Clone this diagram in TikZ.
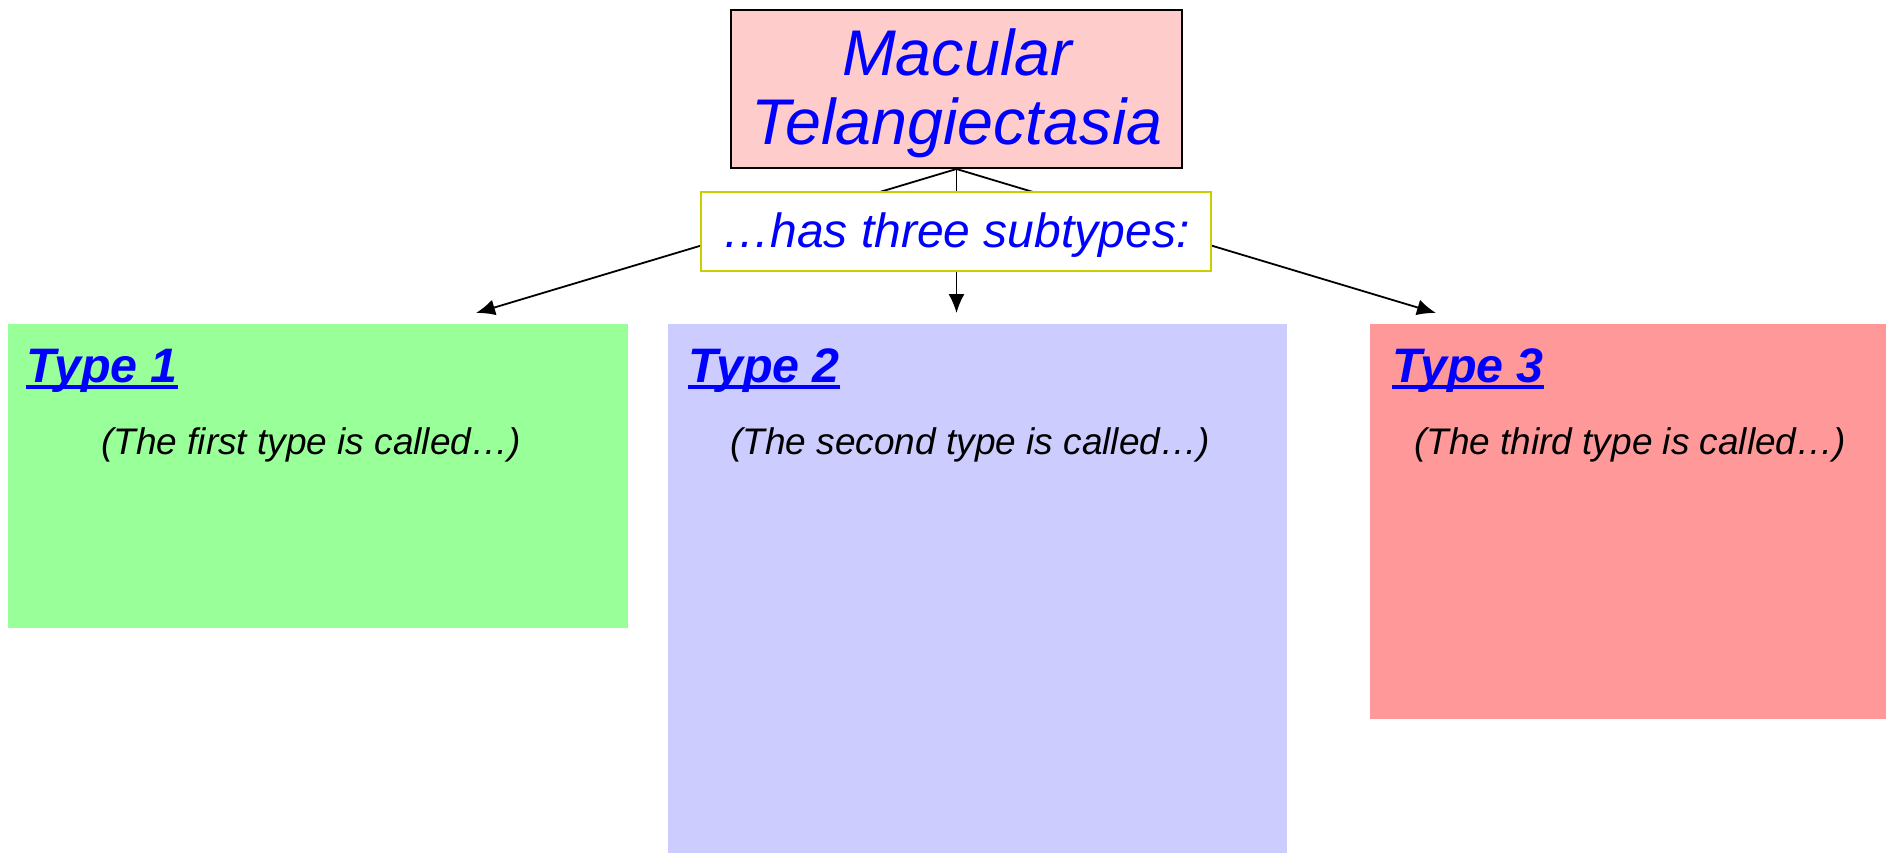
\documentclass[tikz,border=0pt]{standalone}
\usepackage{fontspec}
\setmainfont{Liberation Sans}
\usetikzlibrary{arrows.meta}

\definecolor{mtpink}{HTML}{FFCCCC}
\definecolor{mtblue}{HTML}{0000FF}
\definecolor{subborder}{HTML}{CCCC00}
\definecolor{typeone}{HTML}{99FF99}
\definecolor{typetwo}{HTML}{CCCCFF}
\definecolor{typethree}{HTML}{FF9999}

% heading with a thick underline
\newsavebox\lblbox
\newcommand{\typelabel}[1]{\sbox\lblbox{#1}\rlap{\rule[-3.5pt]{\wd\lblbox}{2pt}}\usebox\lblbox}

\begin{document}
\begin{tikzpicture}[x=0.5pt,y=-0.5pt,
  panel/.style={rectangle, inner sep=0pt, anchor=north west},
  typetitle/.style={anchor=base west, inner sep=0pt, text=mtblue,
    font=\fontsize{24.2}{30}\selectfont\bfseries\itshape},
  typenote/.style={anchor=base, inner sep=0pt,
    font=\fontsize{18.5}{22}\selectfont\itshape},
  link/.style={line width=0.9pt, -{Latex[length=9.5pt,width=8pt]}}
]
\useasboundingbox (0,0) rectangle (1886,853);

% the three subtype panels
\node[panel, fill=typeone,   minimum width=310pt,   minimum height=152pt]   (t1) at (8,324) {};
\node[panel, fill=typetwo,   minimum width=309.5pt, minimum height=264.5pt] (t2) at (668,324) {};
\node[panel, fill=typethree, minimum width=258pt,   minimum height=197.5pt] (t3) at (1370,324) {};

\node[typetitle] (h1) at (26,382)   {\typelabel{Type 1}};
\node[typetitle] (h2) at (688,382)  {\typelabel{Type 2}};
\node[typetitle] (h3) at (1392,382) {\typelabel{Type 3}};

\node[typenote] (n1) at (311,454)  {(The first type is called…)};
\node[typenote] (n2) at (970,454)  {(The second type is called…)};
\node[typenote] (n3) at (1630,454) {(The third type is called…)};

% title box
\node[draw, line width=1pt, fill=mtpink, minimum width=225.5pt, minimum height=79pt,
  inner sep=0pt, text=mtblue] (mt) at (956.5,89) {};
\node[align=center, inner sep=0pt, text=mtblue,
  font=\fontsize{32.3}{34.5}\selectfont\itshape] (mttext) at (957,93) {Macular\\Telangiectasia};

% arrow ends just above the panels
\coordinate (a1) at (476,313);
\coordinate (a2) at (956.5,313);
\coordinate (a3) at (1436,313);

\draw[link] (mt.south) -- (a1);
\draw[link] (mt.south) -- (a2);
\draw[link] (mt.south) -- (a3);

% caption box laid over the connectors
\node[draw=subborder, line width=1pt, fill=white, minimum width=255pt, minimum height=39.5pt,
  inner sep=0pt] (sub) at (956,231.5) {};
\node[inner sep=0pt, text=mtblue, anchor=base,
  font=\fontsize{24}{28}\selectfont\itshape] (subtext) at (956,247) {…has three subtypes:};
\end{tikzpicture}
\end{document}
